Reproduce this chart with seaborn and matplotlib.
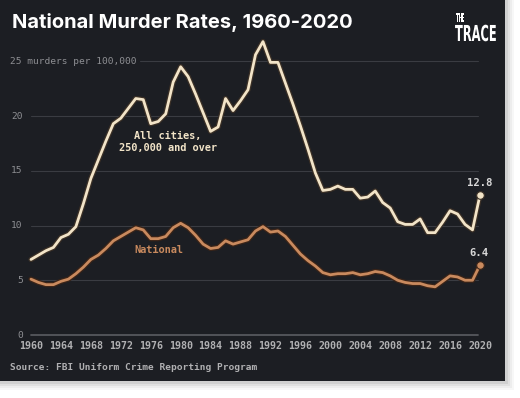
import matplotlib
matplotlib.use("Agg")
import matplotlib.pyplot as plt
import matplotlib.patheffects as pe
from matplotlib.patches import Rectangle, PathPatch
from matplotlib.textpath import TextPath
from matplotlib.font_manager import FontProperties
from matplotlib.transforms import Affine2D
import pandas as pd
import seaborn as sns

years = list(range(1960, 2021))

cities = [
    6.9, 7.3, 7.7, 8.0, 8.9, 9.2, 9.9, 12.0, 14.3, 16.0,
    17.7, 19.3, 19.8, 20.7, 21.6, 21.5, 19.3, 19.5, 20.2, 23.1,
    24.5, 23.6, 22.0, 20.3, 18.6, 19.0, 21.6, 20.5, 21.4, 22.4,
    25.6, 26.8, 24.9, 24.9, 23.0, 21.1, 19.1, 17.0, 14.8, 13.2,
    13.3, 13.6, 13.3, 13.3, 12.5, 12.6, 13.15, 12.1, 11.6, 10.35,
    10.1, 10.1, 10.6, 9.35, 9.35, 10.3, 11.35, 11.05, 10.1, 9.6,
    12.8,
]

national = [
    5.1, 4.8, 4.6, 4.6, 4.9, 5.1, 5.6, 6.2, 6.9, 7.3,
    7.9, 8.6, 9.0, 9.4, 9.8, 9.6, 8.8, 8.8, 9.0, 9.8,
    10.2, 9.8, 9.1, 8.3, 7.9, 8.0, 8.6, 8.3, 8.5, 8.7,
    9.5, 9.9, 9.4, 9.5, 9.0, 8.2, 7.4, 6.8, 6.3, 5.7,
    5.5, 5.6, 5.6, 5.7, 5.5, 5.6, 5.8, 5.7, 5.4, 5.0,
    4.8, 4.7, 4.7, 4.5, 4.4, 4.9, 5.4, 5.3, 5.0, 5.0,
    6.4,
]

y_ticks = [0, 5, 10, 15, 20, 25]
x_ticks = list(range(1960, 2021, 4))

BG = "#1c1e23"
CREAM = "#f2e4c8"
ORANGE = "#c98a5e"
GRID = "#3a3c42"
TICK = "#b0b0b2"
MONO = "DejaVu Sans Mono"

sns.set_theme(style="dark")
plt.rcParams["font.family"] = ["DejaVu Sans"]

df = pd.DataFrame({"year": years, "cities": cities, "national": national})

W, H = 520, 398
fig = plt.figure(figsize=(W / 100, H / 100), dpi=100)
fig.patch.set_facecolor("white")

# soft shadow behind the dark card
for off, a in [(9, 0.03), (7, 0.04), (5, 0.05), (3, 0.07)]:
    fig.add_artist(Rectangle((0, (H - 381 - off) / H), (505 + off) / W, 1,
                             transform=fig.transFigure, color="black", alpha=a, lw=0, zorder=0))
fig.add_artist(Rectangle((0, (H - 381) / H), 505 / W, 1,
                         transform=fig.transFigure, color=BG, lw=0, zorder=0.5))

ax = fig.add_axes([31 / W, (H - 335) / H, 449 / W, (335 - 39.4) / H])
ax.set_zorder(2)
ax.set_facecolor("none")
ax.set_xlim(1960, 2020)
ax.set_ylim(0, 27)

for t in y_ticks[1:]:
    x0 = 1960 if t != 25 else 1974.6
    ax.plot([x0, 2019.7], [t, t], color=GRID, lw=0.8, zorder=1, clip_on=False)
ax.plot([1960, 2019.7], [0, 0], color="#56585d", lw=1.3, zorder=1, clip_on=False)

sns.lineplot(data=df, x="year", y="cities", ax=ax, color=CREAM, lw=2.0, zorder=4,
             path_effects=[pe.withStroke(linewidth=3.8, foreground="#3b3026")], clip_on=False)
sns.lineplot(data=df, x="year", y="national", ax=ax, color=ORANGE, lw=2.0, zorder=3,
             path_effects=[pe.withStroke(linewidth=3.8, foreground="#3a2418")], clip_on=False)

ax.scatter([years[-1]], [cities[-1]], s=30, color=CREAM, zorder=5, clip_on=False,
           edgecolor="#3b3026", linewidth=0.8)
ax.scatter([years[-1]], [national[-1]], s=30, color=ORANGE, zorder=5, clip_on=False,
           edgecolor="#3a2418", linewidth=0.8)

ax.text(years[-1] - 0.1, cities[-1] + 1.1, f"{cities[-1]}", color="#d8d8d8", fontsize=7.6,
        family=MONO, ha="center", va="center", fontweight="bold")
ax.text(years[-1] - 0.1, national[-1] + 1.1, f"{national[-1]}", color="#d8d8d8", fontsize=7.6,
        family=MONO, ha="center", va="center", fontweight="bold")

ax.text(1978.3, 17.6, "All cities,\n250,000 and over", color=CREAM, fontsize=7.4,
        family=MONO, ha="center", va="center", linespacing=1.25, fontweight="bold")
ax.text(1977.1, 7.75, "National", color=ORANGE, fontsize=7.4, family=MONO,
        ha="center", va="center", fontweight="bold")

ax.set_xticks(x_ticks)
ax.set_xticklabels([str(x) for x in x_ticks], family=MONO, fontsize=7.2, color=TICK,
                   fontweight="bold")
ax.tick_params(axis="x", length=0, pad=4)
ax.set_yticks([])

# y labels drawn as text so "25 murders per 100,000" can start at the left edge
for t in y_ticks:
    if t == 25:
        ax.text(1957.2, t, "25 murders per 100,000", color="#8e8f93", fontsize=6.8,
                family=MONO, ha="left", va="center", clip_on=False)
    else:
        ax.text(1958.9, t, str(t), color="#8e8f93", fontsize=6.8, family=MONO,
                ha="right", va="center", clip_on=False)

ax.set_xlabel("")
ax.set_ylabel("")
ax.grid(False)
for s in ax.spines.values():
    s.set_visible(False)

fig.text(12 / W, 1 - 22 / H, "National Murder Rates, 1960-2020", color="white",
         fontsize=14.5, fontweight="bold", family="Inter", va="center", ha="left")

# logo: condensed lettering made by squeezing text paths (sizes in pixels)
logo_fp = FontProperties(family="DejaVu Sans", weight="bold")
for txt, size, sx, x, y in [("THE", 11, 0.36, 456, 21.5), ("TRACE", 22, 0.52, 455, 41)]:
    tp = TextPath((0, 0), txt, size=size, prop=logo_fp)
    tr = Affine2D().scale(sx, 1.0).translate(x, H - y)
    fig.add_artist(PathPatch(tr.transform_path(tp), transform=None, color="white", lw=0,
                             zorder=3))

fig.text(10 / W, 1 - 368 / H, "Source: FBI Uniform Crime Reporting Program", color=TICK,
         fontsize=6.8, family=MONO, fontweight="bold", va="center", ha="left")

fig.savefig("out.png", dpi=100, facecolor=fig.get_facecolor())
